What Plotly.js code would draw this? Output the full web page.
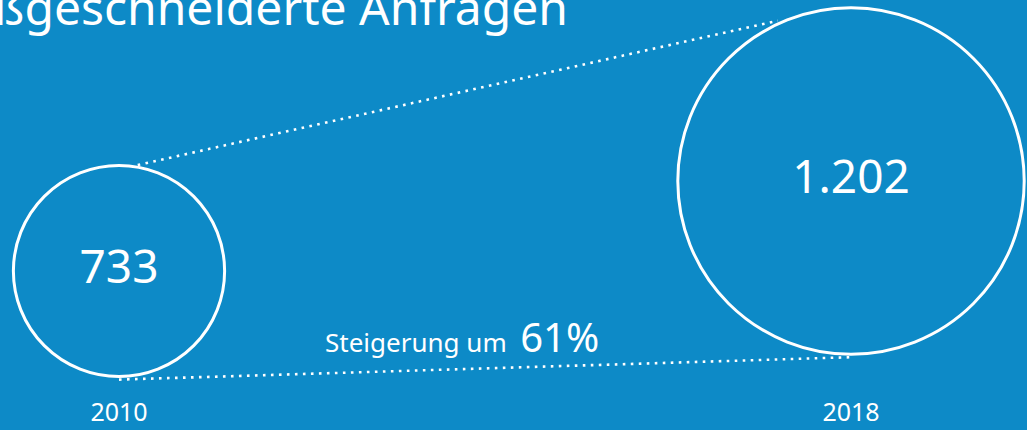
<!DOCTYPE html>
<html>
<head>
<meta charset="utf-8">
<script src="https://cdn.plot.ly/plotly-3.0.1.min.js"></script>
<style>
  html, body { margin: 0; padding: 0; background: #0d8ac7; }
  #chart { width: 1027px; height: 430px; }
</style>
</head>
<body>
<div id="chart"></div>
<script>
// ---- data ----
const years = ['2010', '2018'];
const requests = [733, 1202];
const titleText = 'Maßgeschneiderte Anfragen';
const growthLabel = 'Steigerung um';
const growthPct = '61%';

// ---- layout constants ----
const W = 1027, H = 430;
const M = {l: 0, r: 0, t: 0, b: 35};
const PW = W - M.l - M.r, PH = H - M.t - M.b;
const BG = '#0d8ac7';
const FONT = 'Noto Sans, Open Sans, sans-serif';

const xRange = [-0.16257, 1.24044];
const yRange = [86.8, 2145.2];
const sizeref = 3.47; // diameter px = value / sizeref

const xIdx = years.map((_, i) => i);
const xToPx = x => (x - xRange[0]) / (xRange[1] - xRange[0]) * PW;
const yToPx = y => (yRange[1] - y) / (yRange[1] - yRange[0]) * PH;
const pxToX = p => xRange[0] + p / PW * (xRange[1] - xRange[0]);
const pxToY = p => yRange[1] - p / PH * (yRange[1] - yRange[0]);

// circle geometry in pixels, derived from data
const circ = requests.map((v, i) => ({cx: xToPx(xIdx[i]), cy: yToPx(v), r: v / sizeref / 2}));
function onCircle(c, deg, pad) {
  const a = deg * Math.PI / 180;
  return [pxToX(c.cx + (c.r + pad) * Math.cos(a)), pxToY(c.cy - (c.r + pad) * Math.sin(a))];
}
const topA = onCircle(circ[0], 80, 2), topB = onCircle(circ[1], 114.5, 3);
const botA = onCircle(circ[0], 270, 3), botB = onCircle(circ[1], 270, 3);

const dotLine = {color: '#ffffff', width: 2.6, dash: '2.6px,5.4px'};

const traces = [
  {x: [topA[0], topB[0]], y: [topA[1], topB[1]], mode: 'lines', line: dotLine, hoverinfo: 'skip', cliponaxis: false},
  {x: [botA[0], botB[0]], y: [botA[1], botB[1]], mode: 'lines', line: dotLine, hoverinfo: 'skip', cliponaxis: false},
  {
    x: xIdx, y: requests, mode: 'markers+text',
    marker: {size: requests, sizemode: 'diameter', sizeref: sizeref, color: 'rgba(255,255,255,0)', opacity: 1,
             line: {color: '#ffffff', width: 3}},
    texttemplate: '%{y:,d}', textposition: 'middle center',
    textfont: {family: FONT, size: 46, color: '#ffffff'},
    cliponaxis: false, hoverinfo: 'skip'
  }
];

const layout = {
  width: W, height: H, autosize: false,
  margin: M,
  paper_bgcolor: BG, plot_bgcolor: BG,
  separators: ',.',
  showlegend: false,
  font: {family: FONT, color: '#ffffff'},
  title: {
    text: titleText,
    font: {family: FONT, size: 48, color: '#ffffff'},
    xref: 'container', x: 568 / W, xanchor: 'right',
    yref: 'container', y: 1 - 8 / H, yanchor: 'middle'
  },
  xaxis: {
    range: xRange, tickvals: xIdx, ticktext: years,
    showgrid: false, zeroline: false, showline: false, ticks: '',
    tickfont: {family: FONT, size: 25, color: '#ffffff'}, fixedrange: true
  },
  yaxis: {range: yRange, visible: false, fixedrange: true},
  annotations: [{
    xref: 'paper', yref: 'paper',
    x: 323 / PW, xanchor: 'left',
    y: (PH - 336) / PH, yanchor: 'middle',
    text: growthLabel + '  <span style="font-size:40px">' + growthPct + '</span>',
    showarrow: false,
    font: {family: FONT, size: 26, color: '#ffffff'}
  }]
};

Plotly.newPlot('chart', traces, layout, {displayModeBar: false, staticPlot: true});
</script>
</body>
</html>
